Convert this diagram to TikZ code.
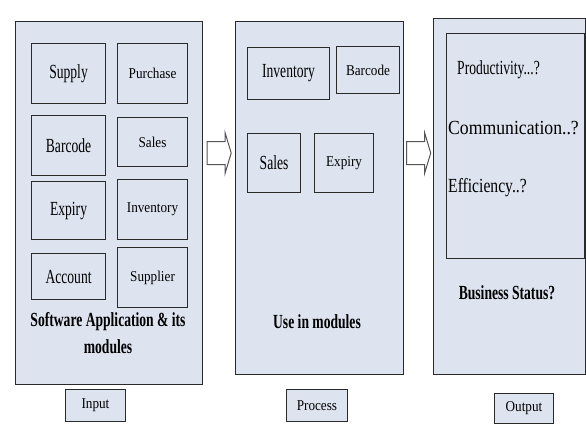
\documentclass[tikz,border=0pt]{standalone}
\usepackage{graphicx}
\usepackage{fontspec}
\setmainfont{Liberation Serif}
\usepackage{tikz}
\usetikzlibrary{calc}

\definecolor{panelfill}{HTML}{DDE3EF}
\definecolor{edge}{HTML}{2A2A2A}

% narrow lettering for the labels
\newcommand{\bigtext}[1]{\fontsize{20}{26}\selectfont\scalebox{0.68}[1]{#1}}
\newcommand{\smalltext}[1]{\fontsize{15}{18}\selectfont\scalebox{0.88}[1]{#1}}

% hollow block arrow between two panels
\newcommand{\flowarrow}[2]{%
  \coordinate (mid) at ($(#1.east)!0.5!(#2.west)$);
  \draw[arrowline] ($(mid |- arrowlevel)+(-12,-11.5)$) -- ++(18,0) -- ++(0,-8.5)
    -- ++(6,20) -- ++(-6,20) -- ++(0,-8.5) -- ++(-18,0) -- cycle;}

\tikzset{
  panel/.style={draw=edge,line width=1.4pt,fill=panelfill,anchor=north west,inner sep=0pt},
  modbox/.style={draw=edge,line width=1.1pt,fill=panelfill,anchor=north west,inner sep=0pt},
  tagbox/.style={draw=edge,line width=0.9pt,fill=panelfill,anchor=north west,inner sep=0pt},
  arrowline/.style={draw=edge!80,line width=1pt,fill=white,line join=miter}
}

\begin{document}
\begin{tikzpicture}[x=1pt,y=-1pt]
  \useasboundingbox (0,0) rectangle (586,434);
  \coordinate (arrowlevel) at (0,153);

  % Input panel
  \node[panel,minimum width=187pt,minimum height=363pt] (app) at (15,21) {};
  \node[modbox,minimum width=74pt,minimum height=60pt] (supply) at (31,43) {\bigtext{Supply}};
  \node[modbox,minimum width=74pt,minimum height=60pt] (barcodeA) at (31,115) {\bigtext{Barcode}};
  \node[modbox,minimum width=74pt,minimum height=58pt] (expiryA) at (31,181) {\bigtext{Expiry}};
  \node[modbox,minimum width=74pt,minimum height=46pt] (account) at (31,253) {\bigtext{Account}};
  \node[modbox,minimum width=70pt,minimum height=60pt] (purchase) at (117,43) {\smalltext{Purchase}};
  \node[modbox,minimum width=70pt,minimum height=49pt] (salesA) at (117,117) {\smalltext{Sales}};
  \node[modbox,minimum width=70pt,minimum height=60pt] (inventoryA) at (117,179) {\smalltext{Inventory}};
  \node[modbox,minimum width=70pt,minimum height=60pt] (supplier) at (117,247) {\smalltext{Supplier}};
  \node[align=center,font=\bfseries\fontsize{20}{27}\selectfont] (applabel) at (108,333)
    {\bigtext{Software Application \& its}\\\bigtext{modules}};

  % Process panel
  \node[panel,minimum width=168pt,minimum height=353pt] (use) at (235,21) {};
  \node[modbox,minimum width=82pt,minimum height=52pt] (inventoryB) at (247,47) {\bigtext{Inventory}};
  \node[modbox,minimum width=63pt,minimum height=47pt] (barcodeB) at (336,46) {\smalltext{Barcode}};
  \node[modbox,minimum width=53pt,minimum height=59pt] (salesB) at (247,133) {\bigtext{Sales}};
  \node[modbox,minimum width=59pt,minimum height=59pt] (expiryB) at (314,133) {\smalltext{Expiry}};
  \node[font=\bfseries] (uselabel) at (317,322) {\bigtext{Use in modules}};

  % Output panel
  \node[panel,minimum width=152pt,minimum height=356pt] (status) at (433,18) {};
  \node[modbox,line width=0.9pt,minimum width=138pt,minimum height=225pt] (questions) at (446,33) {};
  \node[anchor=west,inner sep=0pt] (prod) at (457,70) {\bigtext{Productivity...?}};
  \node[anchor=west,inner sep=0pt] (comm) at (448,128) {\bigtext{\scalebox{1.3}[1]{Communication..?}}};
  \node[anchor=west,inner sep=0pt] (eff) at (448,188) {\bigtext{\scalebox{1.15}[1]{Efficiency..?}}};
  \node[font=\bfseries] (statuslabel) at (507,293) {\bigtext{Business Status?}};

  % stage tags
  \node[tagbox,minimum width=60pt,minimum height=32pt] (input) at (65,389) {\smalltext{Input}};
  \node[tagbox,minimum width=61pt,minimum height=32pt] (process) at (286,389) {\smalltext{Process}};
  \node[tagbox,minimum width=59pt,minimum height=30pt] (output) at (494,393) {\smalltext{Output}};

  % flow between the panels
  \flowarrow{app}{use}
  \flowarrow{use}{status}
\end{tikzpicture}
\end{document}
